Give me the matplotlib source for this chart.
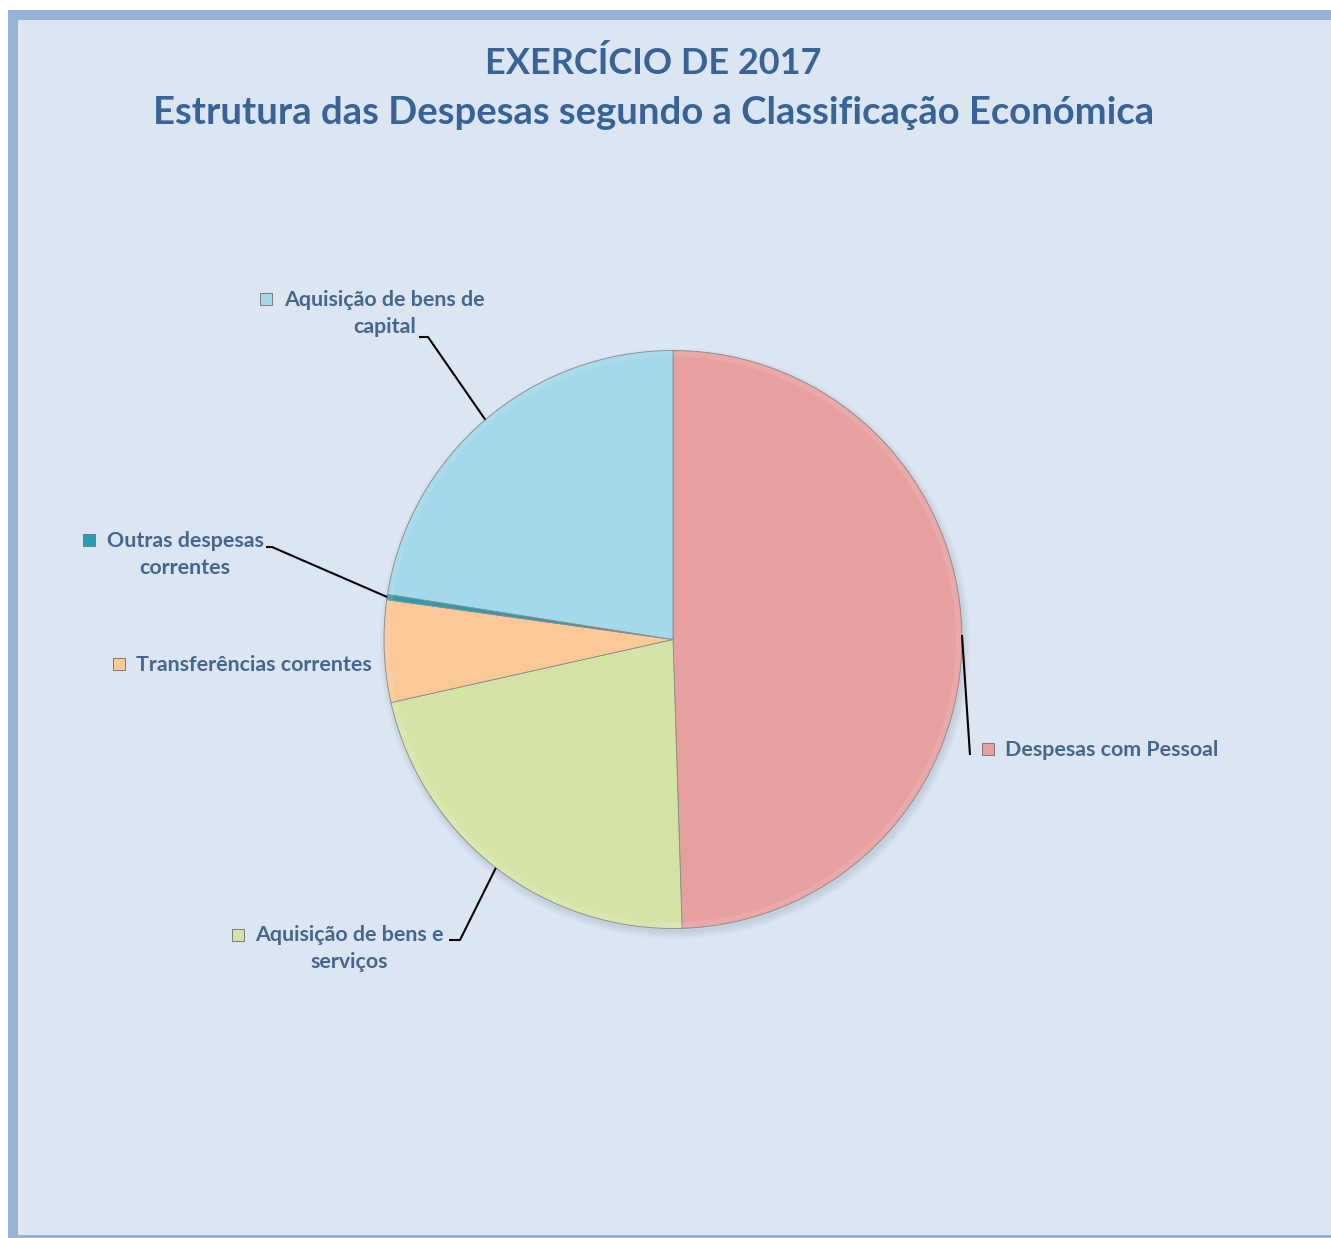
import matplotlib
matplotlib.use('Agg')
import matplotlib.pyplot as plt
import numpy as np
from matplotlib.patches import Rectangle, Circle, Wedge

# ---- data ----
categories = ['Despesas com Pessoal', 'Aquisição de bens e serviços',
              'Transferências correntes', 'Outras despesas correntes',
              'Aquisição de bens de capital']
values = [49.5, 22.0, 5.7, 0.3, 22.5]
label_lines = [['Despesas com Pessoal'],
               ['Aquisição de bens e', 'serviços'],
               ['Transferências correntes'],
               ['Outras despesas', 'correntes'],
               ['Aquisição de bens de', 'capital']]
colors = ['#E6A09F', '#D4E4A7', '#FBC898', '#2B9CB4', '#A3D9EA']
title_lines = ['EXERCÍCIO DE 2017',
               'Estrutura das Despesas segundo a Classificação Económica']

# ---- layout (pixel coordinates) ----
W, H = 1331, 1238
CX, CY, R = 673, 639.5, 289
label_pos = [(1112, 750), (349.5, 935), (254, 665), (185, 541), (384.5, 300)]
marker_pos = [(988, 749), (238, 935), (119, 664), (89, 540), (266, 299)]
leaders = [[(970, 755)],
           [(460, 940), (449, 940)],
           None,
           [(272, 547), (266, 547)],
           [(428, 337), (419, 337)]]

TXT = '#46668E'
TITLE = '#386399'
FONT = 'Lato'

fig = plt.figure(figsize=(W / 100, H / 100), dpi=100)
fig.patch.set_facecolor('white')
ax = fig.add_axes([0, 0, 1, 1])

# background panel with border
ax.add_patch(Rectangle((8, 10), W - 8, H - 10, facecolor='#95B3D7', edgecolor='none', zorder=0))
ax.add_patch(Rectangle((18, 20), W - 18, H - 23, facecolor='#DCE6F2', edgecolor='none', zorder=0))

# soft shadow
for i in range(4):
    ax.add_patch(Circle((CX + 2, CY + 4), R + 6 - i * 2, facecolor='#6a7a8a', alpha=0.05,
                        edgecolor='none', zorder=1))

wedges, _ = ax.pie(values, colors=colors, startangle=-90, counterclock=True,
                   center=(CX, CY), radius=R, frame=True,
                   wedgeprops=dict(edgecolor='#8a8a8a', linewidth=0.6, zorder=2))
ax.set_xlim(0, W)
ax.set_ylim(H, 0)
ax.set_aspect('equal')
ax.axis('off')

# subtle bevel highlight on each wedge's outer rim
for w in wedges:
    ax.add_patch(Wedge((CX, CY), R - 1, w.theta1, w.theta2, width=5,
                       facecolor='white', alpha=0.10, edgecolor='none', zorder=3))

# titles
ax.text(W / 2 - 12, 63, title_lines[0], ha='center', va='center', fontsize=26,
        fontweight='bold', color=TITLE, family=FONT)
ax.text(W / 2 - 12, 113, title_lines[1], ha='center', va='center', fontsize=27.5,
        fontweight='bold', color=TITLE, family=FONT)

# labels
for i, w in enumerate(wedges):
    mid = np.deg2rad((w.theta1 + w.theta2) / 2)
    ax_x = CX + R * np.cos(mid)
    ax_y = CY + R * np.sin(mid)
    if leaders[i] is not None:
        pts = [(ax_x, ax_y)] + leaders[i]
        xs, ys = zip(*pts)
        ax.plot(xs, ys, color='black', linewidth=1.5, zorder=4, solid_capstyle='butt')
    lx, ly = label_pos[i]
    for j, line in enumerate(label_lines[i]):
        ax.text(lx, ly + j * 27, line, ha='center', va='center', fontsize=15.4,
                fontweight='bold', color=TXT, family=FONT, zorder=5)
    mx, my = marker_pos[i]
    ax.scatter([mx], [my], marker='s', s=65, color=colors[i], edgecolors='#7a7a7a',
               linewidths=0.7, zorder=5)

fig.savefig('out.png', dpi=100, facecolor=fig.get_facecolor())
